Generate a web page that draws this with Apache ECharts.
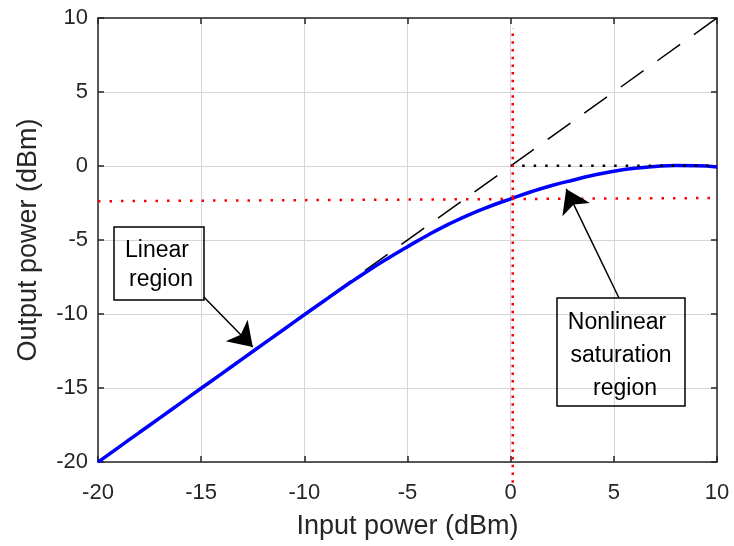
<!DOCTYPE html>
<html lang="en">
<head>
    <meta charset="UTF-8">
    <title>Amplifier gain compression</title>
    <script type="text/javascript" src="https://cdn.jsdelivr.net/npm/echarts@6/dist/echarts.min.js"></script>
    <style>
        html, body { margin: 0; padding: 0; background: #fff; }
    </style>
</head>
<body>
<div id="chart" style="width: 734px;height:546px;"></div>
<script>
    // input / output power of the amplifier (dBm)
    var pinDbm = [-20, -19, -18, -17, -16, -15, -14, -13, -12, -11, -10, -9, -8, -7, -6, -5,
        -4, -3, -2, -1, 0, 1, 2, 3, 4, 5, 6, 7, 8, 9, 10];
    var poutDbm = [-20.01, -19.01, -18.01, -17.02, -16.02, -15.02, -14.03, -13.03, -12.04, -11.05,
        -10.05, -9.07, -8.1, -7.16, -6.28, -5.45, -4.66, -3.93, -3.28, -2.72,
        -2.22, -1.74, -1.32, -0.96, -0.63, -0.35, -0.15, -0.03, 0.03, 0.02, -0.06];

    // ideal linear gain (dashed)
    var idealIn = [-20, 10];
    var idealOut = [-20, 10];
    // saturation level (black dotted)
    var satIn = [0, 10];
    var satOut = [0.02, 0.02];
    // red dotted reference lines
    var refIn = [-20, 10];
    var refOut = [-2.38, -2.16];
    var markIn = [0.1, 0.1];
    var markOut = [-21.4, 9.3];

    // annotation arrows: tail -> head, in data units
    var arrowTails = [[-14.87, -8.85], [5.25, -8.92]];
    var arrowHeads = [[-12.5, -12.23], [2.69, -1.55]];

    var axisTicks = [-20, -15, -10, -5, 0, 5, 10];

    function pairs(xs, ys) {
        return xs.map(function (x, i) { return [x, ys[i]]; });
    }

    var font = '"Liberation Sans", Arial, Helvetica, sans-serif';
    var axisColor = '#262626';

    function mainAxis(name, gap, isY) {
        return {
            type: 'value',
            min: axisTicks[0],
            max: axisTicks[axisTicks.length - 1],
            interval: 5,
            name: name,
            nameLocation: 'middle',
            nameGap: gap,
            nameRotate: isY ? 90 : 0,
            nameTextStyle: {color: axisColor, fontSize: 27, fontFamily: font},
            axisLine: {show: true, onZero: false, lineStyle: {color: axisColor, width: 1.5}},
            axisTick: {show: true, inside: true, length: 6, lineStyle: {color: axisColor, width: 1.5}},
            axisLabel: {color: axisColor, fontSize: 22, fontFamily: font, margin: isY ? 10 : 20},
            splitLine: {show: true, lineStyle: {color: '#d6d6d6', width: 1}}
        };
    }

    function mirrorAxis(pos) {
        return {
            type: 'value',
            position: pos,
            min: axisTicks[0],
            max: axisTicks[axisTicks.length - 1],
            interval: 5,
            axisLine: {show: true, onZero: false, lineStyle: {color: axisColor, width: 1.5}},
            axisTick: {show: true, inside: true, length: 6, lineStyle: {color: axisColor, width: 1.5}},
            axisLabel: {show: false},
            splitLine: {show: false}
        };
    }

    var option = {
        animation: false,
        grid: {left: 98, right: 17, top: 18, bottom: 84},
        xAxis: [mainAxis('Input power (dBm)', 51, false), mirrorAxis('top')],
        yAxis: [mainAxis('Output power (dBm)', 56, true), mirrorAxis('right')],
        series: [
            {
                type: 'line',
                data: pairs(idealIn, idealOut),
                symbol: 'none',
                lineStyle: {color: '#000', width: 1.5, type: [28, 17], dashOffset: 31.6},
                z: 2
            },
            {
                type: 'line',
                data: pairs(pinDbm, poutDbm),
                symbol: 'none',
                smooth: true,
                lineStyle: {color: '#0000ff', width: 3.5},
                z: 3
            },
            {
                type: 'line',
                data: pairs(satIn, satOut),
                symbol: 'none',
                lineStyle: {color: '#000', width: 2.5, type: [2.5, 9]},
                z: 4
            },
            {
                type: 'line',
                data: pairs(refIn, refOut),
                symbol: 'none',
                lineStyle: {color: '#ff0000', width: 2.5, type: [2.5, 9]},
                z: 4
            },
            {
                type: 'line',
                data: pairs(markIn, markOut),
                symbol: 'none',
                clip: false,
                lineStyle: {color: '#ff0000', width: 2.5, type: [2.5, 5.2]},
                z: 4
            },
            {
                type: 'lines',
                coordinateSystem: 'cartesian2d',
                data: arrowTails.map(function (t, i) {
                    return {coords: [t, arrowHeads[i]]};
                }),
                symbol: ['none', 'arrow'],
                symbolSize: 23,
                lineStyle: {color: '#000', width: 1.5, opacity: 1, curveness: 0},
                silent: true,
                z: 6
            }
        ],
        graphic: [
            {type: 'rect', shape: {x: 114, y: 227, width: 90, height: 73},
                style: {fill: 'none', stroke: '#000', lineWidth: 1.5}, z: 10},
            {type: 'text', x: 157, y: 251, z: 10,
                style: {text: 'Linear', fontSize: 23, fontFamily: font, fill: '#000', align: 'center', verticalAlign: 'middle'}},
            {type: 'text', x: 161, y: 280, z: 10,
                style: {text: 'region', fontSize: 23, fontFamily: font, fill: '#000', align: 'center', verticalAlign: 'middle'}},

            {type: 'rect', shape: {x: 557, y: 298, width: 128, height: 108},
                style: {fill: 'none', stroke: '#000', lineWidth: 1.5}, z: 10},
            {type: 'text', x: 617, y: 323, z: 10,
                style: {text: 'Nonlinear', fontSize: 23, fontFamily: font, fill: '#000', align: 'center', verticalAlign: 'middle'}},
            {type: 'text', x: 621, y: 356, z: 10,
                style: {text: 'saturation', fontSize: 23, fontFamily: font, fill: '#000', align: 'center', verticalAlign: 'middle'}},
            {type: 'text', x: 625, y: 389, z: 10,
                style: {text: 'region', fontSize: 23, fontFamily: font, fill: '#000', align: 'center', verticalAlign: 'middle'}}
        ]
    };

    var myChart = echarts.init(document.getElementById('chart'));
    myChart.setOption(option);
</script>
</body>
</html>
